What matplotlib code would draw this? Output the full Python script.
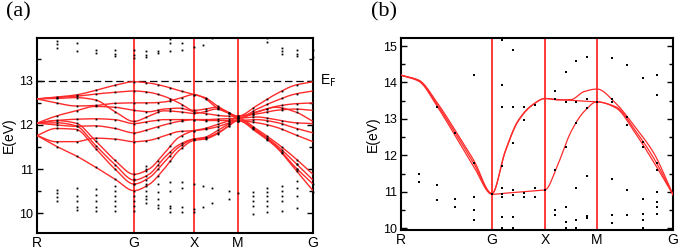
import numpy as np
import matplotlib
matplotlib.use("Agg")
from matplotlib import pyplot as plt
from matplotlib.ticker import MultipleLocator

# ---------------- panel (a) data ----------------
# path length along R-G-X-M-G (arbitrary units)
sym_a = [0, 97, 157, 201, 276]
sym_labels = ["R", "G", "X", "M", "G"]
k_a = [0, 19, 39, 58, 78, 97, 112, 127, 142, 157, 168, 179, 190, 201, 220, 239, 258, 276]

bands_a = [
    [12.59, 12.63, 12.68, 12.78, 12.90, 12.98, 12.95, 12.88, 12.78, 12.69, 12.62, 12.45, 12.30, 12.20, 12.44, 12.70, 12.90, 12.98],
    [12.59, 12.62, 12.65, 12.70, 12.74, 12.77, 12.74, 12.65, 12.50, 12.33, 12.36, 12.40, 12.30, 12.15, 12.36, 12.55, 12.70, 12.77],
    [12.59, 12.50, 12.43, 12.44, 12.49, 12.50, 12.50, 12.52, 12.60, 12.69, 12.60, 12.40, 12.28, 12.20, 12.30, 12.42, 12.48, 12.50],
    [12.59, 12.60, 12.62, 12.57, 12.30, 12.08, 12.20, 12.32, 12.30, 12.26, 12.30, 12.36, 12.30, 12.15, 12.29, 12.40, 12.30, 12.08],
    [12.04, 12.20, 12.32, 12.42, 12.40, 12.33, 12.30, 12.36, 12.38, 12.30, 12.26, 12.22, 12.20, 12.20, 12.25, 12.33, 12.36, 12.33],
    [12.04, 12.10, 12.13, 12.14, 12.12, 12.03, 12.08, 12.12, 12.12, 12.12, 12.12, 12.13, 12.14, 12.15, 12.18, 12.12, 12.05, 12.03],
    [12.04, 12.00, 11.97, 11.98, 11.92, 11.82, 11.90, 12.00, 12.08, 12.12, 12.10, 12.10, 12.10, 12.10, 12.12, 12.06, 11.93, 11.82],
    [11.76, 11.62, 11.62, 11.70, 11.68, 11.62, 11.65, 11.75, 11.85, 11.87, 11.90, 11.95, 12.03, 12.10, 12.05, 11.95, 11.78, 11.62],
    [12.04, 12.10, 12.04, 11.65, 11.20, 10.88, 11.00, 11.35, 11.72, 11.87, 11.92, 12.00, 12.08, 12.15, 11.90, 11.60, 11.25, 10.88],
    [12.04, 12.05, 11.98, 11.55, 11.10, 10.75, 10.88, 11.25, 11.55, 11.68, 11.70, 11.80, 11.95, 12.10, 11.87, 11.55, 11.15, 10.75],
    [11.76, 11.92, 11.90, 11.48, 11.00, 10.66, 10.80, 11.15, 11.50, 11.68, 11.72, 11.85, 12.00, 12.12, 11.85, 11.52, 11.05, 10.66],
    [11.76, 11.52, 11.30, 11.05, 10.77, 10.51, 10.65, 11.00, 11.42, 11.65, 11.68, 11.78, 11.95, 12.10, 11.83, 11.50, 11.00, 10.51],
]
E_F = 13.0

# columns where the black points sit on the bands
dot_cols_a = [20, 40, 59, 78, 97, 109, 121, 133, 145, 157, 169, 181, 192, 201, 216, 230, 245, 260, 276]

# points off the bands (above E_F and the low group)
extra_a = {
    20: [13.90, 13.83, 13.74, 10.53, 10.45, 10.36, 10.28],
    40: [13.86, 13.67, 10.56, 10.39, 10.28, 10.13, 10.08],
    59: [13.71, 13.64, 10.55, 10.41, 10.28, 10.13, 10.05],
    78: [13.71, 13.61, 13.56, 10.62, 10.51, 10.39, 10.28, 10.17, 10.05],
    97: [13.69, 13.58, 13.52, 10.77, 10.66, 10.39, 10.28, 10.17, 10.05],
    109: [13.67, 13.59, 13.54, 11.08, 11.00, 10.66, 10.51, 10.39, 10.32, 10.23],
    121: [13.67, 13.64, 10.66, 10.47, 10.32, 10.18, 10.11],
    133: [13.94, 13.86, 13.67, 10.70, 10.51, 10.17, 10.11, 10.03],
    145: [13.86, 13.69, 10.70, 10.58, 10.13, 10.02],
    157: [13.77, 10.66, 10.09, 10.02],
    166: [13.82, 10.62, 10.13],
    175: [13.97, 10.58, 10.24],
    192: [10.51, 10.32],
    201: [10.45],
    216: [10.48, 10.39, 10.28, 10.17, 9.98],
    230: [13.97, 13.88, 10.56, 10.47, 10.39, 10.28, 10.17, 10.02],
    245: [13.74, 13.67, 13.61, 10.62, 10.51, 10.39, 10.28, 10.05],
    260: [13.69, 13.61, 13.56, 11.11, 11.00, 10.74, 10.58, 10.39, 10.11],
    276: [13.69, 13.54, 10.66, 10.47],
}

# ---------------- panel (b) data ----------------
sym_b = [0, 91, 144, 196, 272]
k_b = [0, 18, 36, 55, 73, 91, 104, 117, 131, 144, 157, 170, 183, 196, 215, 234, 253, 272]

bands_b = [
    [14.20, 14.06, 13.45, 12.65, 11.85, 10.95, 12.10, 12.95, 13.38, 13.56, 13.52, 13.53, 13.75, 13.82, 13.42, 12.78, 12.05, 10.92],
    [14.20, 14.05, 13.40, 12.58, 11.77, 10.95, 12.08, 12.93, 13.37, 13.56, 13.53, 13.51, 13.49, 13.47, 13.33, 12.69, 11.91, 10.92],
    [14.20, 14.03, 13.35, 12.50, 11.68, 10.93, 10.96, 10.99, 11.02, 11.05, 11.76, 12.65, 13.20, 13.47, 13.30, 12.62, 11.80, 10.92],
]

extra_b = {
    18: [11.50, 11.27],
    36: [13.33, 11.18, 10.77],
    54: [12.60, 10.81, 10.59],
    73: [14.20, 11.78, 10.86, 10.51, 10.22],
    91: [10.95],
    101: [15.18, 13.93, 13.33, 11.71, 11.09, 10.95, 10.86, 10.31, 10.00],
    112: [14.89, 13.33, 12.33, 11.04, 10.91, 10.31, 10.00],
    123: [13.33, 12.97, 10.97, 10.86],
    134: [13.38, 11.09, 10.86],
    144: [11.04],
    154: [13.77, 13.56, 11.59, 10.49, 10.36],
    165: [14.30, 13.47, 12.23, 10.59, 10.17, 10.00],
    175: [14.59, 13.47, 12.88, 11.09, 10.22, 10.00],
    186: [14.69, 13.56, 13.29, 11.43, 10.33, 10.27],
    196: [13.47],
    211: [14.66, 13.56, 13.47, 11.36, 10.36, 10.13],
    226: [14.48, 13.06, 12.83, 11.04, 10.36],
    242: [14.11, 12.37, 12.23, 10.79, 10.40, 10.22, 10.00],
    256: [14.20, 13.65, 11.78, 11.59, 11.00, 10.72, 10.59, 10.40],
    272: [10.86],
}


def pchip(xk, yk, xs):
    # monotone cubic hermite, keeps band extrema flat
    xk = np.asarray(xk, float)
    yk = np.asarray(yk, float)
    h = np.diff(xk)
    d = np.diff(yk) / h
    m = np.zeros_like(yk)
    for i in range(1, len(xk) - 1):
        if d[i - 1] * d[i] > 0:
            w1 = 2 * h[i] + h[i - 1]
            w2 = h[i] + 2 * h[i - 1]
            m[i] = (w1 + w2) / (w1 / d[i - 1] + w2 / d[i])
    m[0] = d[0]
    m[-1] = d[-1]
    idx = np.clip(np.searchsorted(xk, xs) - 1, 0, len(xk) - 2)
    t = (xs - xk[idx]) / h[idx]
    h00 = 2 * t**3 - 3 * t**2 + 1
    h10 = t**3 - 2 * t**2 + t
    h01 = -2 * t**3 + 3 * t**2
    h11 = t**3 - t**2
    return h00 * yk[idx] + h10 * h[idx] * m[idx] + h01 * yk[idx + 1] + h11 * h[idx] * m[idx + 1]


RED = "#ff2a2a"
plt.rcParams["font.family"] = ["Liberation Sans", "DejaVu Sans"]

fig = plt.figure(figsize=(6.9, 2.52), dpi=100)
ax1 = fig.add_axes([0.0536, 0.0754, 0.4, 0.7736])
ax2 = fig.add_axes([0.5812, 0.0873, 0.3942, 0.7617])


def style_axis(ax, sym, ylim):
    ax.set_xlim(sym[0], sym[-1])
    ax.set_ylim(*ylim)
    for s in ax.spines.values():
        s.set_linewidth(1.5)
    ax.set_xticks(sym)
    ax.set_xticklabels(sym_labels)
    ax.tick_params(axis="x", length=0, pad=2, labelsize=10)
    ax.yaxis.set_major_locator(MultipleLocator(1))
    ax.yaxis.set_minor_locator(MultipleLocator(0.5))
    ax.tick_params(axis="y", which="both", direction="in", right=True, labelsize=9, pad=3)
    ax.tick_params(axis="y", which="major", length=4, width=1)
    ax.tick_params(axis="y", which="minor", length=3, width=1)
    for xv in sym[1:-1]:
        ax.axvline(xv, color=RED, lw=1.3, zorder=2)
    ax.set_ylabel("E(eV)", fontsize=10, labelpad=2)


# panel (a)
style_axis(ax1, sym_a, (9.55, 13.97))
ks = np.linspace(sym_a[0], sym_a[-1], 600)
for b in bands_a:
    ax1.plot(ks, pchip(k_a, b, ks), color=RED, lw=1.0, zorder=3)
    dc = np.array(dot_cols_a, float)
    ax1.plot(dc, pchip(k_a, b, dc), "s", color="black", ms=1.3, mew=0, zorder=4)
for kk, ev in extra_a.items():
    ax1.plot([kk] * len(ev), ev, "s", color="black", ms=1.3, mew=0, zorder=4, clip_on=False)
ax1.axhline(E_F, color="black", lw=0.9, dashes=(6, 3), zorder=2)
ax1.text(sym_a[-1] + 7, E_F, r"E$_\mathrm{F}$", fontsize=10, va="center", ha="left")
fig.text(0.008, 0.99, "(a)", family="Liberation Serif", fontsize=16, va="top", ha="left")

# panel (b)
style_axis(ax2, sym_b, (9.95, 15.22))
ks = np.linspace(sym_b[0], sym_b[-1], 600)
for b in bands_b:
    ax2.plot(ks, pchip(k_b, b, ks), color=RED, lw=0.9, zorder=3)
for kk, ev in extra_b.items():
    ax2.plot([kk] * len(ev), ev, "s", color="black", ms=1.6, mew=0, zorder=4, clip_on=False)
fig.text(0.537, 0.99, "(b)", family="Liberation Serif", fontsize=16, va="top", ha="left")

fig.savefig("out.png", dpi=100)
